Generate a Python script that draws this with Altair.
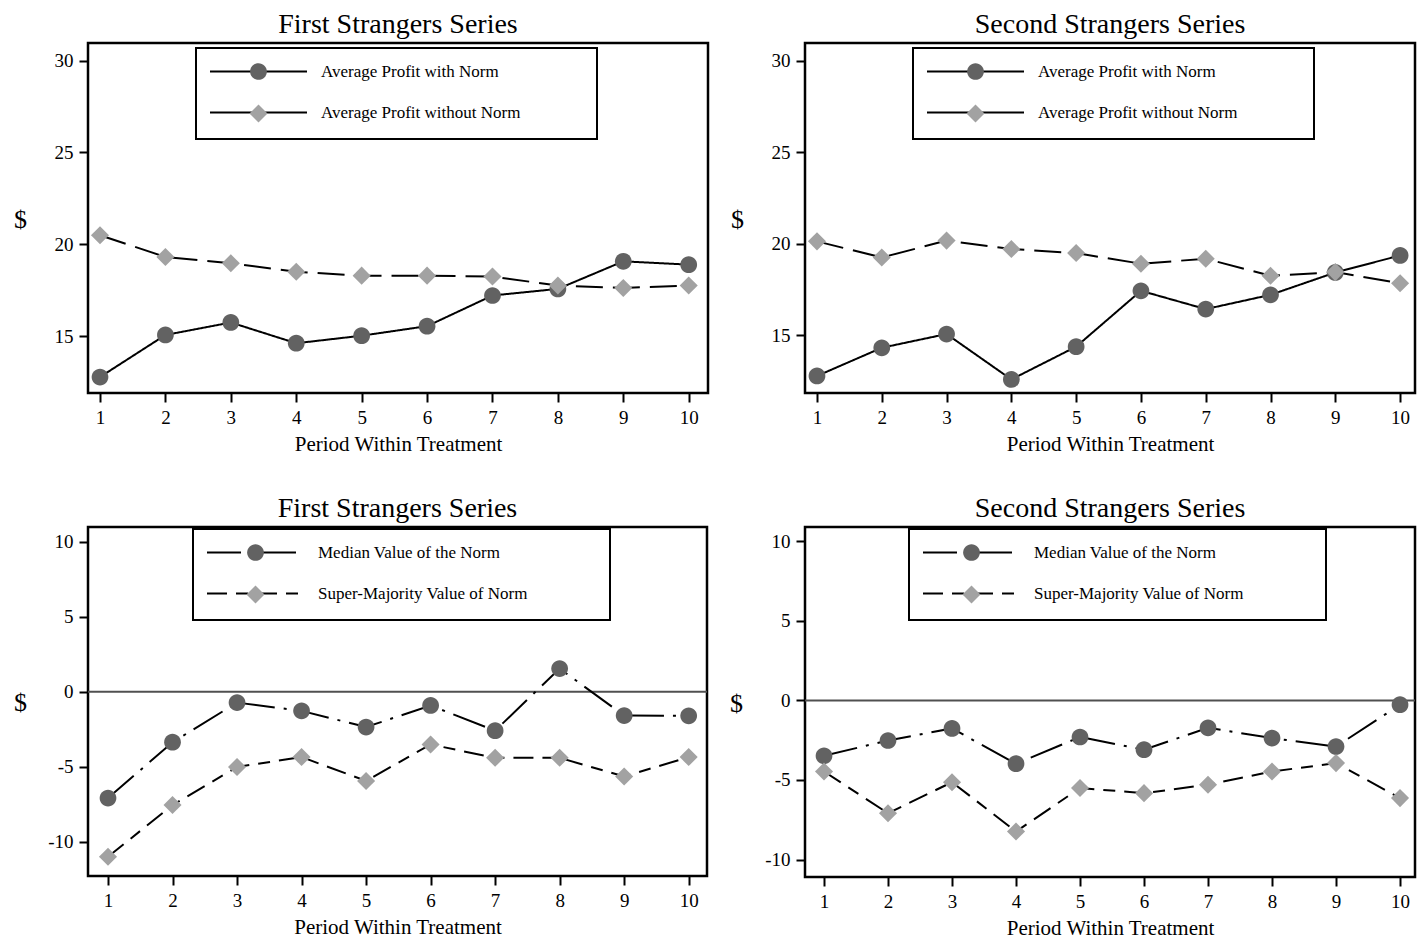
import altair as alt
import pandas as pd

FONT = "Liberation Serif"

periods = list(range(1, 11))

profit_series = ["Average Profit with Norm", "Average Profit without Norm"]
norm_series = ["Median Value of the Norm", "Super-Majority Value of Norm"]

# First Strangers Series - profits
tl_with = [12.77, 15.06, 15.74, 14.61, 15.02, 15.54, 17.21, 17.57, 19.07, 18.89]
tl_without = [20.49, 19.31, 18.97, 18.50, 18.29, 18.29, 18.24, 17.75, 17.62, 17.75]
# Second Strangers Series - profits
tr_with = [12.79, 14.33, 15.08, 12.60, 14.39, 17.44, 16.44, 17.22, 18.44, 19.37]
tr_without = [20.14, 19.26, 20.18, 19.72, 19.50, 18.92, 19.19, 18.26, 18.46, 17.85]
# First Strangers Series - norm values
bl_median = [-7.09, -3.37, -0.73, -1.28, -2.36, -0.92, -2.60, 1.54, -1.59, -1.61]
bl_super = [-11.01, -7.56, -5.02, -4.36, -5.95, -3.52, -4.41, -4.41, -5.66, -4.36]
# Second Strangers Series - norm values
br_median = [-3.48, -2.52, -1.76, -3.98, -2.30, -3.10, -1.72, -2.37, -2.90, -0.27]
br_super = [-4.47, -7.09, -5.14, -8.24, -5.51, -5.83, -5.30, -4.47, -3.94, -6.14]

profit_ticks = [15, 20, 25, 30]
norm_ticks = [-10, -5, 0, 5, 10]

DARK = "#626262"
LIGHT = "#a2a2a2"

SYM = 280
UNIT = (SYM ** 0.5) / 2.0
HALF = 48.5 / UNIT
LINE_PATH = f"M{-HALF:.3f},0L{HALF:.3f},0M0,-1M0,1"
CIRCLE_PATH = f"M{-HALF:.3f},0M{HALF:.3f},0M1,0A1,1,0,1,1,-1,0A1,1,0,1,1,1,0Z"
DIAMOND_PATH = f"M{-HALF:.3f},0M{HALF:.3f},0M-1.08,0L0,-1.08L1.08,0L0,1.08Z"

NUM_LABEL = "datum.value < 0 ? '-' + abs(datum.value) : '' + datum.value"


def long_df(a, b, names):
    rows = []
    for p, v in zip(periods, a):
        rows.append({"period": p, "value": v, "series": names[0]})
    for p, v in zip(periods, b):
        rows.append({"period": p, "value": v, "series": names[1]})
    return pd.DataFrame(rows)


def legend_common(lx, ly, nfill, fill_size):
    # an invisible title on the right widens the legend box like the reference
    return dict(
        orient="none", legendX=lx, legendY=ly,
        title="m" * nfill, titleOrient="right", titleColor="transparent",
        titleFont=FONT, titleFontSize=fill_size, titleFontWeight="normal",
        titlePadding=0,
        symbolSize=SYM, symbolStrokeWidth=2, symbolOffset=39,
        labelOffset=53, labelFont=FONT, labelFontSize=17, labelLimit=0,
        padding=14, rowPadding=16,
    )


def line_legend(lx, ly, nfill, fill_size):
    return alt.Legend(
        symbolType=LINE_PATH, symbolStrokeColor="black",
        symbolFillColor="transparent", labelColor="black",
        strokeColor="black", fillColor="white", zindex=1,
        **legend_common(lx, ly, nfill, fill_size),
    )


def marker_legend(lx, ly, nfill, fill_size):
    return alt.Legend(
        symbolStrokeColor="transparent", labelColor="transparent",
        strokeColor="transparent", zindex=2,
        **legend_common(lx, ly, nfill, fill_size),
    )


def panel(a, b, names, title, xdom, ydom, yticks, w, h, dashes,
          lpos, fill, ytx, zero, solid_legend):
    df = long_df(a, b, names)
    nfill, fsize = fill
    x = alt.X("period:Q",
              scale=alt.Scale(domain=xdom, nice=False, zero=False),
              axis=alt.Axis(values=periods, labelExpr=NUM_LABEL,
                            title="Period Within Treatment"))
    y = alt.Y("value:Q",
              scale=alt.Scale(domain=ydom, nice=False, zero=False),
              axis=alt.Axis(values=yticks, labelExpr=NUM_LABEL, title="$",
                            titleAngle=0, titleX=ytx, titleY=h / 2 + 1,
                            titleAlign="center", titleBaseline="middle",
                            titleFontSize=26))
    layers = []
    if zero:
        zdf = pd.DataFrame({"zero": [0]})
        layers.append(
            alt.Chart(zdf).mark_rule(color="#505050", strokeWidth=2)
            .encode(y=alt.Y("zero:Q"))
        )
    base = alt.Chart(df).transform_calculate(
        dash="datum.series", marker="datum.series"
    )
    if solid_legend:
        line = base.mark_line(color="black", strokeWidth=2, clip=True).encode(
            x=x, y=y,
            stroke=alt.Stroke("series:N",
                              scale=alt.Scale(range=["black", "black"]),
                              legend=line_legend(lpos[0], lpos[1], nfill, fsize)),
            strokeDash=alt.StrokeDash("dash:N",
                                      scale=alt.Scale(range=dashes),
                                      legend=None),
        )
    else:
        line = base.mark_line(color="black", strokeWidth=2, clip=True).encode(
            x=x, y=y,
            strokeDash=alt.StrokeDash("series:N",
                                      scale=alt.Scale(range=dashes),
                                      legend=line_legend(lpos[0], lpos[1], nfill, fsize)),
        )
    pts = base.mark_point(
        filled=True, size=SYM, opacity=1, strokeWidth=0, clip=True
    ).encode(
        x=x, y=y,
        shape=alt.Shape("marker:N",
                        scale=alt.Scale(range=[CIRCLE_PATH, DIAMOND_PATH]),
                        legend=marker_legend(lpos[0], lpos[1], nfill, fsize)),
        fill=alt.Fill("marker:N",
                      scale=alt.Scale(range=[DARK, LIGHT]),
                      legend=marker_legend(lpos[0], lpos[1], nfill, fsize)),
    )
    layers += [line, pts]
    return alt.layer(*layers).properties(
        width=w, height=h,
        title=alt.TitleParams(title, font=FONT, fontSize=28,
                              fontWeight="normal", color="black", offset=4),
    )


profit_dash = [[1, 0], [27, 10]]
norm_dash = [[34, 9, 3, 9], [20, 9, 12, 9]]

tl = panel(tl_with, tl_without, profit_series, "First Strangers Series",
           [0.8165, 10.295], [11.9, 30.96], profit_ticks, 620, 350, profit_dash,
           (108, 5), (8, 10), -68, False, True)
tr = panel(tr_with, tr_without, profit_series, "Second Strangers Series",
           [0.815, 10.23], [11.86, 30.97], profit_ticks, 610, 350, profit_dash,
           (108, 5), (8, 10), -68, False, True)
bl = panel(bl_median, bl_super, norm_series, "First Strangers Series",
           [0.69, 10.284], [-12.29, 10.98], norm_ticks, 619, 349, norm_dash,
           (105, 2), (9, 9.6), -68, True, False)
br = panel(br_median, br_super, norm_series, "Second Strangers Series",
           [0.703, 10.234], [-11.1, 10.9], norm_ticks, 610, 350, norm_dash,
           (104, 2), (9, 9.6), -69, True, False)

indep = dict(stroke="independent", strokeDash="independent",
             fill="independent", shape="independent")

chart = (
    alt.concat(tl, tr, bl, br, columns=2, bounds="flush",
               spacing={"row": 134, "column": 97})
    .resolve_scale(**indep)
    .resolve_legend(**indep)
    .properties(padding={"left": 4, "top": 1, "right": 0, "bottom": 0},
                background="white")
    .configure_view(stroke="black", strokeWidth=2.5)
    .configure_axis(domain=False, grid=False, tickColor="black", tickWidth=2,
                    tickSize=9, labelFont=FONT, labelFontSize=19,
                    labelColor="black", labelPadding=6, titleFont=FONT,
                    titleFontSize=21, titleFontWeight="normal",
                    titleColor="black", titlePadding=6)
    .configure_legend(strokeWidth=2)
)

chart.save("out.html", embed_options={"renderer": "svg", "actions": False})
